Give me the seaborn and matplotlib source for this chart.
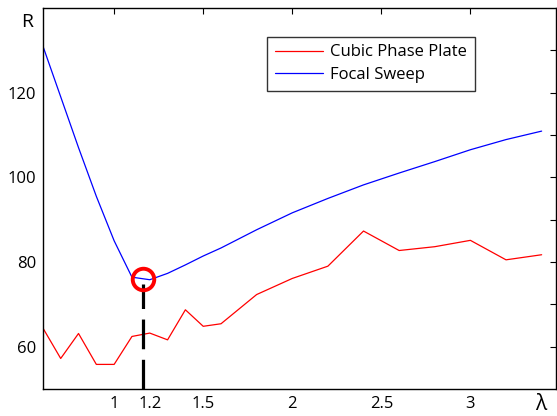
import numpy as np
import pandas as pd
import seaborn as sns
import matplotlib.pyplot as plt

# valores
lam = [0.6, 0.7, 0.8, 0.9, 1.0, 1.1, 1.2, 1.3, 1.4, 1.5, 1.6,
       1.8, 2.0, 2.2, 2.4, 2.6, 2.8, 3.0, 3.2, 3.4]
cubic_phase = [64.4, 57.2, 63.1, 55.8, 55.8, 62.4, 63.2, 61.6, 68.7, 64.8, 65.4,
               72.3, 76.1, 79.0, 87.3, 82.7, 83.6, 85.1, 80.5, 81.7]
focal_sweep = [131.0, 119.0, 107.0, 95.5, 85.0, 76.4, 75.8, 77.3, 79.3, 81.4, 83.3,
               87.6, 91.6, 95.0, 98.2, 101.0, 103.7, 106.5, 108.9, 110.9]
series_names = ['Cubic Phase Plate', 'Focal Sweep']
x_ticks = [1, 1.5, 2, 2.5, 3]
x_ticklabels = ['1', '1.5', '2', '2.5', '3']
y_ticks = [60, 70, 80, 90, 100, 110, 120, 130]
y_ticklabels = ['60', '', '80', '', '100', '', '120', '']
opt_lam = 1.16
opt_r = 76.0

df = pd.DataFrame({
    'lambda': lam * 2,
    'R': cubic_phase + focal_sweep,
    'metodo': [series_names[0]] * len(lam) + [series_names[1]] * len(lam),
})

sns.set_theme(style='white')
plt.rcParams['font.family'] = ['Open Sans', 'DejaVu Sans']
plt.rcParams['xtick.direction'] = 'in'
plt.rcParams['ytick.direction'] = 'in'
plt.rcParams['text.color'] = 'black'
plt.rcParams['xtick.labelcolor'] = 'black'
plt.rcParams['ytick.labelcolor'] = 'black'

fig = plt.figure(figsize=(5.57, 4.16), dpi=100)
ax = fig.add_axes([0.077, 0.065, 0.921, 0.916])

sns.lineplot(data=df, x='lambda', y='R', hue='metodo',
             palette=['#ff0000', '#0000ff'], linewidth=0.9, ax=ax)

# linha tracejada e circulo no ponto otimo
ax.plot([opt_lam, opt_lam], [50, opt_r - 1.3], color='black', linewidth=2.3,
        dashes=(9.3, 3.3))
ax.plot([opt_lam], [opt_r], marker='o', markersize=15.5, markerfacecolor='none',
        markeredgecolor='#ff0000', markeredgewidth=2.8)

ax.set_xlim(0.6, 3.48)
ax.set_ylim(50, 140)
ax.set_xticks(x_ticks)
ax.set_xticklabels(x_ticklabels)
# rotulo 1.2 sem marca de tick
ax.set_xticks([1.2], minor=True)
ax.set_xticklabels(['1.2'], minor=True)
ax.set_yticks(y_ticks)
ax.set_yticklabels(y_ticklabels)
ax.tick_params(axis='both', which='major', top=True, right=True, length=4,
               width=0.8, color='black', labelsize=12, pad=5)
ax.tick_params(axis='x', which='minor', top=False, length=0, labelsize=12, pad=5)
for s in ax.spines.values():
    s.set_color('black')
    s.set_linewidth(1.0)
ax.set_xlabel('')
ax.set_ylabel('')

fig.text(27 / 557, 1 - 22 / 416, 'R', ha='center', va='center', fontsize=14)
fig.text(541 / 557, 1 - 405 / 416, 'λ', ha='center', va='center', fontsize=15)

leg = ax.legend(loc='upper left', bbox_to_anchor=(0.437, 0.924), fontsize=12,
                frameon=True, fancybox=False, edgecolor='black',
                handlelength=2.9, handletextpad=0.45, labelspacing=0.4,
                borderpad=0.45, borderaxespad=0)
leg.get_frame().set_linewidth(1.0)
for t in leg.get_texts():
    t.set_color('black')

fig.savefig('out.png', dpi=100)
